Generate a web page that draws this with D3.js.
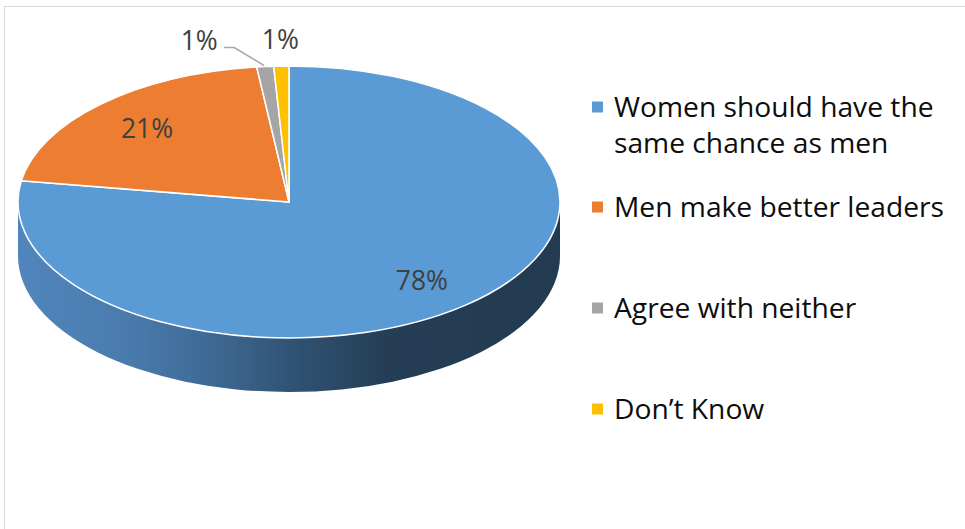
<!DOCTYPE html>
<html>
<head>
<meta charset="utf-8">
<script src="https://cdn.jsdelivr.net/npm/d3@7"></script>
<style>
  html, body { margin: 0; padding: 0; background: #fff; }
  svg { display: block; }
</style>
</head>
<body>
<svg id="chart" width="965" height="529"></svg>
<script>
const categories = ["Women should have the same chance as men", "Men make better leaders", "Agree with neither", "Don\u2019t Know"];
const legendLines = [["Women should have the", "same chance as men"], ["Men make better leaders"], ["Agree with neither"], ["Don\u2019t Know"]];
const values = [77.5, 20.6, 1.0, 0.9];
const labels = ["78%", "21%", "1%", "1%"];
const colors = ["#5B9BD5", "#ED7D31", "#A5A5A5", "#FFC000"];

const svg = d3.select("#chart");
const W = 965, H = 529;

// chart area border
svg.append("rect").attr("x", 4.5).attr("y", 6.5).attr("width", W + 10).attr("height", H + 10)
  .attr("fill", "#fff").attr("stroke", "#d9d9d9").attr("stroke-width", 1);

const cx = 289, cy = 202, rx = 271, ry = 136, depth = 54;

const pie = d3.pie().sort(null).value(d => d).startAngle(0).endAngle(2 * Math.PI);
const arcs = pie(values);

const px = a => cx + rx * Math.sin(a);
const py = (a, dz) => cy - ry * Math.cos(a) + (dz || 0);

// gradient for side wall
const defs = svg.append("defs");
const grad = defs.append("linearGradient").attr("id", "sideGrad")
  .attr("gradientUnits", "userSpaceOnUse")
  .attr("x1", cx - rx).attr("x2", cx + rx).attr("y1", 0).attr("y2", 0);
[[0, "#5186bc"], [0.2, "#4a7bad"], [0.35, "#3f6a95"], [0.52, "#2f5171"], [0.68, "#253e55"], [1, "#233b51"]]
  .forEach(s => grad.append("stop").attr("offset", s[0]).attr("stop-color", s[1]));

// side walls (front half: angles PI/2 .. 3PI/2)
const sideG = svg.append("g");
arcs.forEach((d, i) => {
  const a1 = Math.max(d.startAngle, Math.PI / 2);
  const a2 = Math.min(d.endAngle, 3 * Math.PI / 2);
  if (a2 <= a1) return;
  const large = (a2 - a1) > Math.PI ? 1 : 0;
  const path = `M${px(a1)},${py(a1)} A${rx},${ry} 0 ${large} 1 ${px(a2)},${py(a2)} ` +
    `L${px(a2)},${py(a2, depth)} A${rx},${ry} 0 ${large} 0 ${px(a1)},${py(a1, depth)} Z`;
  sideG.append("path").attr("d", path)
    .attr("fill", i === 0 ? "url(#sideGrad)" : d3.color(colors[i]).darker(1.2));
});

// top faces
const arcGen = d3.arc().innerRadius(0).outerRadius(rx);
const topG = svg.append("g").attr("transform", `translate(${cx},${cy}) scale(1,${ry / rx})`);
topG.selectAll("path").data(arcs).join("path")
  .attr("d", arcGen)
  .attr("fill", (d, i) => colors[i])
  .attr("stroke", "#fff")
  .attr("stroke-width", 1.5)
  .attr("vector-effect", "non-scaling-stroke")
  .attr("stroke-linejoin", "round");

// data labels
const labelG = svg.append("g")
  .attr("font-family", "'Open Sans', 'Noto Sans', sans-serif")
  .attr("font-size", 26.5).attr("fill", "#404040");
arcs.forEach((d, i) => {
  const mid = (d.startAngle + d.endAngle) / 2;
  let x, y;
  if (i < 2) {
    const f = 0.755;
    x = cx + rx * f * Math.sin(mid);
    y = cy - ry * f * Math.cos(mid);
    labelG.append("text").attr("x", x).attr("y", y).attr("text-anchor", "middle")
      .attr("dominant-baseline", "central").text(labels[i]);
  } else {
    // outside labels above the pie
    const ex = px(mid), ey = py(mid);
    const lx = i === 2 ? ex - 66 : ex - 1;
    const ly = ey - 17;
    labelG.append("text").attr("x", lx).attr("y", ly).attr("text-anchor", "middle").text(labels[i]);
    if (i === 2) {
      svg.append("path")
        .attr("d", `M${lx + 25},${ly - 2} L${lx + 35},${ly - 2} L${ex - 1},${ey - 1}`)
        .attr("fill", "none").attr("stroke", "#a6a6a6").attr("stroke-width", 1.5);
    }
  }
});

// legend
const legendY = [107, 207, 308, 409];
const legG = svg.append("g")
  .attr("font-family", "'Open Sans', 'Noto Sans', sans-serif")
  .attr("font-size", 28.2).attr("fill", "#0d0d0d");
categories.forEach((c, i) => {
  legG.append("rect").attr("x", 592).attr("y", legendY[i] - 5.5)
    .attr("width", 11).attr("height", 11).attr("fill", colors[i]);
  const t = legG.append("text").attr("x", 614).attr("y", legendY[i] + 9.5);
  legendLines[i].forEach((ln, k) => {
    t.append("tspan").attr("x", 614).attr("dy", k === 0 ? 0 : 36).text(ln);
  });
});
</script>
</body>
</html>
